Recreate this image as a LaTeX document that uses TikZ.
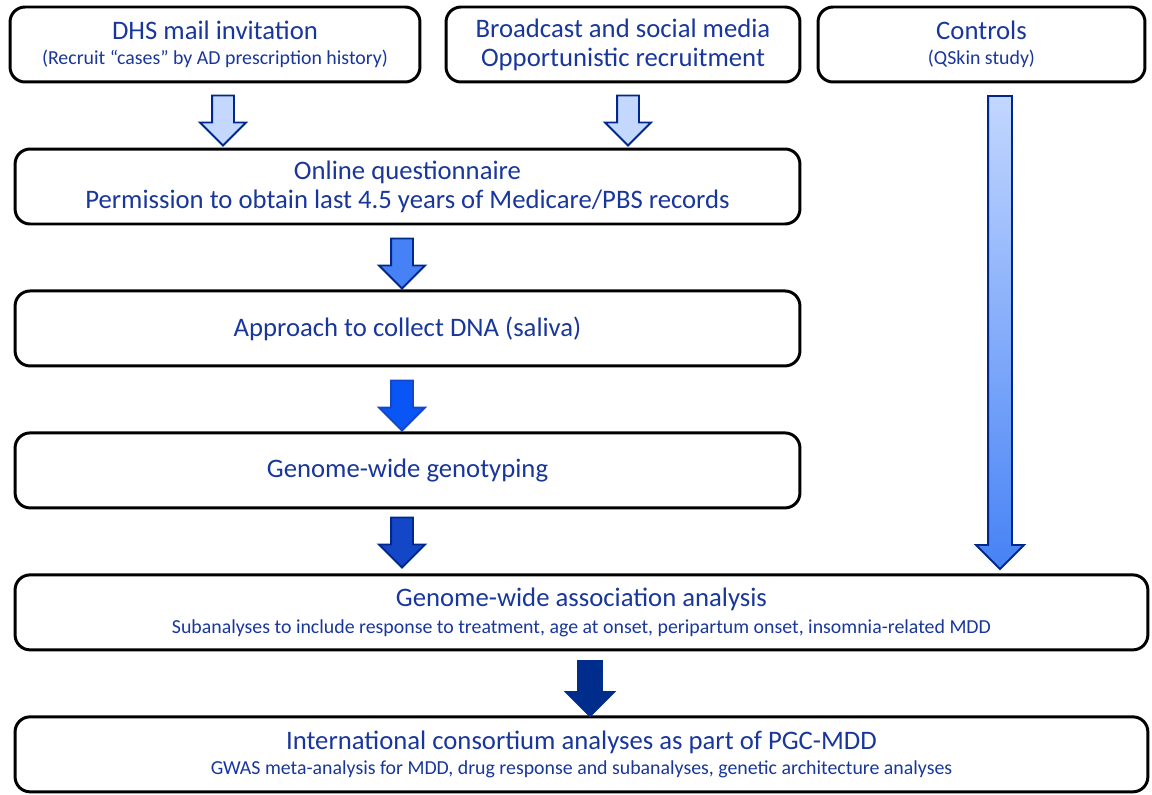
\documentclass[tikz,border=0pt]{standalone}
\usepackage{fontspec}
\setmainfont{Carlito}
\usetikzlibrary{positioning,shapes.arrows}
\definecolor{txtblue}{RGB}{25,55,155}
\definecolor{edgeblue}{RGB}{0,40,140}
\definecolor{paleblue}{RGB}{195,215,255}
\definecolor{midblue}{RGB}{70,130,245}
\definecolor{brightblue}{RGB}{10,85,245}
\definecolor{deepblue}{RGB}{20,70,200}
\definecolor{navyblue}{RGB}{0,45,140}
\newcommand{\subline}[1]{{\fontsize{11.3}{14}\selectfont #1}}

\begin{document}
\begin{tikzpicture}[x=0.02cm, y=-0.02cm]
\tikzstyle{box}=[rectangle, draw=black, line width=1.7pt, rounded corners=0.3cm, align=center, text=txtblue, font=\fontsize{15.2}{16.5}\selectfont, inner sep=0pt, minimum height=1.5cm, node distance=1.28cm]
\tikzstyle{wide}=[minimum width=15.7cm]
\tikzstyle{full}=[minimum width=22.66cm]
\tikzstyle{flow}=[single arrow, shape border rotate=270, draw=edgeblue, line width=1.1pt, inner sep=0.2cm, single arrow head extend=0.24cm, minimum height=1cm]
  \useasboundingbox (0,0) rectangle (1152,794);
  \node[box, minimum width=8.2cm] (dhs) at (215,44.5) {DHS mail invitation\\[-2pt]\subline{(Recruit “cases” by AD prescription history)}};
  \node[box, minimum width=7.08cm] (media) at (623,44.5) {Broadcast and social media\\Opportunistic recruitment};
  \node[box, minimum width=6.54cm] (controls) at (981.5,44.5) {Controls\\[-2pt]\subline{(QSkin study)}};
  \node[box, wide] (online) at (407.5,186.5) {Online questionnaire\\Permission to obtain last 4.5 years of Medicare/PBS records};
  \node[box, wide] (dna) [below=of online] {Approach to collect DNA (saliva)};
  \node[box, wide] (geno) [below=of dna] {Genome-wide genotyping};
  \node[box, full] (gwas) [below=of geno.south west, anchor=north west] {Genome-wide association analysis\\[-1pt]\subline{Subanalyses to include response to treatment, age at onset, peripartum onset, insomnia-related MDD}};
  \node[box, full] (pgc) [below=of gwas] {International consortium analyses as part of PGC-MDD\\[-2pt]\subline{GWAS meta-analysis for MDD, drug response and subanalyses, genetic architecture analyses}};
  \node[flow, fill=paleblue] (a1) at (223,115) {};
  \node[flow, fill=paleblue] (a2) at (628,115) {};
  \node[flow, fill=midblue] (a3) at (402,258) {};
  \node[flow, fill=brightblue, draw=deepblue] (a4) at (402,400) {};
  \node[flow, fill=deepblue] (a5) at (402,537) {};
  \node[flow, fill=navyblue, draw=navyblue, inner sep=0.22cm, minimum height=1.1cm] (a6) at (590,682.5) {};
  \node[flow, top color=paleblue, bottom color=midblue, inner sep=0.22cm, minimum height=9.46cm] (a7) at (1000,326.5) {};
\end{tikzpicture}
\end{document}
